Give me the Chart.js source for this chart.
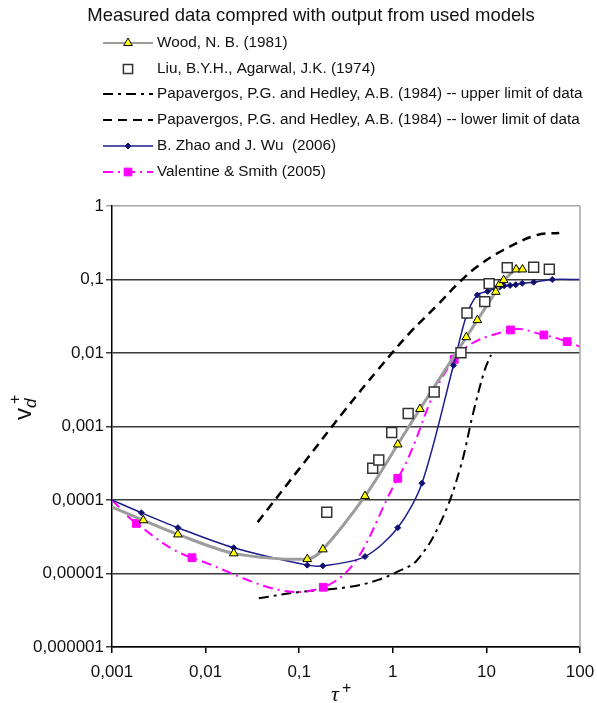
<!DOCTYPE html>
<html lang="en">
<head>
<meta charset="utf-8">
<title>Measured data compared with model output</title>
<script src="https://cdn.jsdelivr.net/npm/chart.js"></script>
<style>
  html, body { margin: 0; padding: 0; background: #fff; }
  #wrap { width: 597px; height: 703px; }
</style>
</head>
<body>
<div id="wrap"><canvas id="depChart" width="597" height="703"></canvas></div>

<script>
	const chartTitle = 'Measured data compred with output from used models';

	const xTicks = [0.001, 0.01, 0.1, 1, 10, 100];
	const xTickLabels = ['0,001', '0,01', '0,1', '1', '10', '100'];
	const yTicks = [0.000001, 0.00001, 0.0001, 0.001, 0.01, 0.1, 1];
	const yTickLabels = ['0,000001', '0,00001', '0,0001', '0,001', '0,01', '0,1', '1'];

	const seriesNames = [
		'Wood, N. B. (1981)',
		'Liu, B.Y.H., Agarwal, J.K. (1974)',
		'Papavergos, P.G. and Hedley, A.B. (1984) -- upper limit of data',
		'Papavergos, P.G. and Hedley, A.B. (1984) -- lower limit of data',
		'B. Zhao and J. Wu  (2006)',
		'Valentine & Smith (2005)'
	];

	// Wood, N. B. (1981)
	const woodTau = [0.001, 0.00216, 0.00506, 0.02, 0.122, 0.179, 0.505, 1.13, 1.95, 6.1, 8.0, 12.6, 13.9, 15.3, 20.8, 24.3];
	const woodVd = [8e-5, 5.3e-5, 3.4e-5, 1.88e-5, 1.57e-5, 2.13e-5, 1.13e-4, 5.7e-4, 1.73e-3, 0.0164, 0.028, 0.068, 0.087, 0.098, 0.137, 0.137];

	// Liu & Agarwal (1974) measurements
	const liuTau = [0.197, 0.61, 0.708, 0.973, 1.46, 2.77, 5.35, 6.2, 9.6, 10.7, 16.7, 32, 47];
	const liuVd = [6.8e-5, 2.7e-4, 3.5e-4, 8.3e-4, 1.5e-3, 2.95e-3, 0.0101, 0.035, 0.05, 0.088, 0.145, 0.147, 0.138];

	// Papavergos & Hedley (1984) upper limit
	const papUpTau = [0.037, 0.1, 0.35, 0.7, 1.2, 1.8, 3.2, 5.2, 7.2, 9.6, 11.2];
	const papUpVd = [4.6e-6, 5.6e-6, 6.6e-6, 8.2e-6, 1.1e-5, 1.5e-5, 4.8e-5, 2.6e-4, 1.5e-3, 5.9e-3, 9.4e-3];

	// Papavergos & Hedley (1984) lower limit
	const papLoTau = [0.036, 0.1, 0.3, 0.7, 1.5, 3, 5.2, 8, 15, 34, 60];
	const papLoVd = [5e-5, 2.65e-4, 1.6e-3, 6e-3, 0.0185, 0.045, 0.093, 0.15, 0.25, 0.40, 0.43];

	// Zhao & Wu (2006)
	const zhaoTau = [0.001, 0.00206, 0.00506, 0.02, 0.122, 0.179, 0.505, 1.13, 2.05, 4.45, 6.1, 8.0, 10.3, 12.3, 13.9, 15.5, 17.9, 20.6, 24.2, 32, 50.6, 100];
	const zhaoVd = [1e-4, 6.7e-5, 4.2e-5, 2.24e-5, 1.3e-5, 1.27e-5, 1.7e-5, 4.2e-5, 1.69e-4, 6.8e-3, 0.0319, 0.0615, 0.069, 0.076, 0.079, 0.082, 0.083, 0.085, 0.089, 0.092, 0.1, 0.1];

	// Valentine & Smith (2005)
	const valTau = [0.001, 0.00182, 0.00715, 0.181, 1.13, 4.53, 18.1, 41.1, 72.8, 100];
	const valVd = [1e-4, 4.8e-5, 1.64e-5, 6.5e-6, 1.97e-4, 8.2e-3, 0.0206, 0.0176, 0.0143, 0.0122];

	function pairs(xs, ys) {
		return xs.map((x, i) => ({x: x, y: ys[i]}));
	}

	// hide markers on the first/last point of model curves
	function radii(n, r, skipFirst, skipLast) {
		const out = new Array(n).fill(r);
		if (skipFirst) out[0] = 0;
		if (skipLast) out[n - 1] = 0;
		return out;
	}

	const FONT = '"Liberation Sans", Arial, sans-serif';

	const datasets = [
		{
			label: seriesNames[0], data: pairs(woodTau, woodVd), showLine: true, order: 1,
			borderColor: '#9c9c9c', borderWidth: 3, tension: 0.3,
			pointStyle: 'triangle', pointRadius: radii(woodTau.length, 5, true, false),
			pointBackgroundColor: '#ffff00', pointBorderColor: '#000', pointBorderWidth: 1,
			legendMarker: 'triangle'
		},
		{
			label: seriesNames[1], data: pairs(liuTau, liuVd), showLine: false, order: 0,
			borderColor: '#333', borderWidth: 1.5,
			pointStyle: 'rect', pointRadius: 7,
			pointBackgroundColor: '#fff', pointBorderColor: '#333', pointBorderWidth: 1.5,
			legendMarker: 'rect'
		},
		{
			label: seriesNames[2], data: pairs(papUpTau, papUpVd), showLine: true, order: 4,
			borderColor: '#000', borderWidth: 2, borderDash: [10, 5, 3, 5], tension: 0.4,
			pointRadius: 0
		},
		{
			label: seriesNames[3], data: pairs(papLoTau, papLoVd), showLine: true, order: 5,
			borderColor: '#000', borderWidth: 2.5, borderDash: [9, 6], tension: 0.4,
			pointRadius: 0
		},
		{
			label: seriesNames[4], data: pairs(zhaoTau, zhaoVd), showLine: true, order: 2,
			borderColor: '#1c1c8a', borderWidth: 1.5, tension: 0.3,
			pointStyle: 'rectRot', pointRadius: radii(zhaoTau.length, 3, true, true),
			pointBackgroundColor: '#10106e', pointBorderColor: '#10106e', pointBorderWidth: 1,
			legendMarker: 'rectRot'
		},
		{
			label: seriesNames[5], data: pairs(valTau, valVd), showLine: true, order: 3,
			borderColor: '#ff00ff', borderWidth: 2, borderDash: [10, 5, 2, 5], tension: 0.4,
			pointStyle: 'rect', pointRadius: radii(valTau.length, 5.5, true, true),
			pointBackgroundColor: '#ff00ff', pointBorderColor: '#ff00ff', pointBorderWidth: 1,
			legendMarker: 'rect'
		}
	];

	function drawMarker(ctx, style, x, y, r) {
		ctx.beginPath();
		if (style === 'triangle') {
			for (let k = 0; k < 3; k++) {
				const a = k * 2 * Math.PI / 3;
				const px = x + Math.sin(a) * r, py = y - Math.cos(a) * r;
				if (k === 0) ctx.moveTo(px, py); else ctx.lineTo(px, py);
			}
			ctx.closePath();
		} else if (style === 'rect') {
			const s = Math.SQRT1_2 * r;
			ctx.rect(x - s, y - s, 2 * s, 2 * s);
		} else if (style === 'rectRot') {
			ctx.moveTo(x, y - r); ctx.lineTo(x + r, y); ctx.lineTo(x, y + r); ctx.lineTo(x - r, y);
			ctx.closePath();
		}
		ctx.fill();
		ctx.stroke();
	}

	// title, legend, axis titles and the grey right frame
	const decorations = {
		id: 'decorations',
		afterDraw(chart) {
			const ctx = chart.ctx;
			const area = chart.chartArea;
			ctx.save();

			ctx.strokeStyle = '#a6a6a6';
			ctx.lineWidth = 1.5;
			ctx.beginPath();
			ctx.moveTo(area.right, area.top);
			ctx.lineTo(area.right, area.bottom);
			ctx.stroke();

			ctx.fillStyle = '#111';
			ctx.font = '18.5px ' + FONT;
			ctx.textAlign = 'center';
			ctx.textBaseline = 'middle';
			ctx.fillText(chartTitle, 311, 16);

			// legend, one entry per row
			const rowY = [43, 69, 94, 120, 146, 172];
			chart.data.datasets.forEach((ds, i) => {
				const y = rowY[i];
				if (ds.showLine) {
					ctx.save();
					ctx.setLineDash(ds.borderDash || []);
					ctx.strokeStyle = ds.borderColor;
					ctx.lineWidth = Math.min(ds.borderWidth, 2);
					ctx.beginPath();
					ctx.moveTo(103, y);
					ctx.lineTo(153, y);
					ctx.stroke();
					ctx.restore();
				}
				if (ds.legendMarker) {
					ctx.save();
					ctx.fillStyle = ds.pointBackgroundColor;
					ctx.strokeStyle = ds.pointBorderColor;
					ctx.lineWidth = ds.pointBorderWidth;
					const r = ds.legendMarker === 'triangle' ? 5 : (ds.legendMarker === 'rectRot' ? 3 : (i === 1 ? 6.5 : 5.5));
					drawMarker(ctx, ds.legendMarker, 128, y, r);
					ctx.restore();
				}
				ctx.fillStyle = '#111';
				ctx.font = '15.3px ' + FONT;
				ctx.textAlign = 'left';
				ctx.textBaseline = 'middle';
				ctx.fillText(ds.label, 157, y);
			});

			// y axis title: v with subscript d and superscript +
			ctx.save();
			ctx.translate(31, 420);
			ctx.rotate(-Math.PI / 2);
			ctx.textAlign = 'left';
			ctx.textBaseline = 'alphabetic';
			ctx.font = '24px ' + FONT;
			ctx.fillText('v', 0, 0);
			const vw = ctx.measureText('v').width;
			ctx.font = 'italic 17px ' + FONT;
			ctx.fillText('d', vw, 5);
			ctx.font = '16px ' + FONT;
			ctx.fillText('+', vw + 4, -11);
			ctx.restore();

			// x axis title: tau+
			ctx.font = 'italic 22px "Liberation Serif", "Times New Roman", serif';
			ctx.textAlign = 'left';
			ctx.textBaseline = 'alphabetic';
			ctx.fillText('\u03c4', 331, 701);
			ctx.font = '16px ' + FONT;
			ctx.fillText('+', 342, 693);

			ctx.restore();
		}
	};

	const ctx = document.getElementById('depChart').getContext('2d');
	new Chart(ctx, {
		type: 'scatter',
		data: { datasets: datasets },
		plugins: [decorations],
		options: {
			responsive: false,
			animation: false,
			events: [],
			layout: { padding: { top: 206, right: 17, left: 0, bottom: 0 } },
			plugins: {
				legend: { display: false },
				title: { display: false },
				tooltip: { enabled: false }
			},
			scales: {
				x: {
					type: 'logarithmic',
					min: 0.001,
					max: 100,
					afterBuildTicks: scale => { scale.ticks = xTicks.map(v => ({value: v})); },
					afterFit: scale => {
						scale.height = 56;
						scale.paddingLeft = 0;
						scale.paddingRight = 0;
					},
					ticks: {
						autoSkip: false,
						maxRotation: 0,
						padding: 9,
						color: '#111',
						font: { family: FONT, size: 17 },
						callback: (value, index) => xTickLabels[index]
					},
					grid: { drawOnChartArea: false, drawTicks: true, tickLength: 6, color: '#000', lineWidth: 1.5 },
					border: { display: true, color: '#000', width: 1.5 }
				},
				y: {
					type: 'logarithmic',
					min: 0.000001,
					max: 1,
					afterBuildTicks: scale => { scale.ticks = yTicks.map(v => ({value: v})); },
					afterFit: scale => { scale.width = 112; },
					ticks: {
						autoSkip: false,
						padding: 2,
						color: '#111',
						font: { family: FONT, size: 17 },
						callback: (value, index) => yTickLabels[index]
					},
					grid: {
						drawTicks: true,
						tickLength: 6,
						lineWidth: 1.5,
						color: c => (c.tick && c.tick.value === 1) ? '#a6a6a6' : '#3a3a3a'
					},
					border: { display: true, color: '#000', width: 1.5 }
				}
			}
		}
	});
</script>
</body>
</html>
